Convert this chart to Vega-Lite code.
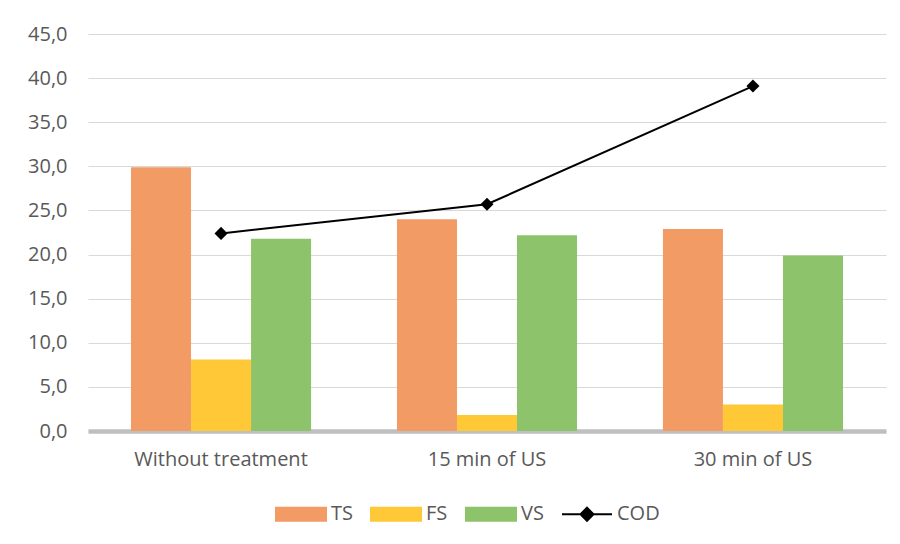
{
  "$schema": "https://vega.github.io/schema/vega-lite/v6.json",
  "width": 798,
  "height": 397,
  "autosize": {"type": "none"},
  "padding": {"left": 88, "top": 34, "right": 14, "bottom": 113},
  "background": "#ffffff",
  "datasets": {
    "solids": [
      {"category": "Without treatment", "series": "TS", "value": 29.9},
      {"category": "Without treatment", "series": "FS", "value": 8.1},
      {"category": "Without treatment", "series": "VS", "value": 21.8},
      {"category": "15 min of US", "series": "TS", "value": 24.0},
      {"category": "15 min of US", "series": "FS", "value": 1.8},
      {"category": "15 min of US", "series": "VS", "value": 22.2},
      {"category": "30 min of US", "series": "TS", "value": 22.9},
      {"category": "30 min of US", "series": "FS", "value": 3.0},
      {"category": "30 min of US", "series": "VS", "value": 19.9}
    ],
    "cod": [
      {"category": "Without treatment", "COD": 22.4},
      {"category": "15 min of US", "COD": 25.7},
      {"category": "30 min of US", "COD": 39.1}
    ]
  },
  "config": {
    "view": {"stroke": null},
    "font": "Open Sans",
    "axis": {
      "labelFont": "Open Sans",
      "labelFontSize": 20,
      "labelColor": "#595959",
      "ticks": false,
      "tickSize": 0,
      "title": null
    },
    "legend": {
      "labelFont": "Open Sans",
      "labelFontSize": 20,
      "labelColor": "#595959"
    }
  },
  "layer": [
    {
      "data": {"name": "solids"},
      "mark": {"type": "bar"},
      "encoding": {
        "x": {
          "field": "category",
          "type": "nominal",
          "sort": ["Without treatment", "15 min of US", "30 min of US"],
          "scale": {"paddingInner": 0.323, "paddingOuter": 0.1617},
          "axis": {
            "labelAngle": 0,
            "labelPadding": 18,
            "domain": true,
            "domainColor": "#bfbfbf",
            "domainWidth": 4.5,
            "grid": false
          }
        },
        "xOffset": {
          "field": "series",
          "type": "nominal",
          "sort": ["TS", "FS", "VS"],
          "scale": {"paddingInner": 0, "paddingOuter": 0}
        },
        "y": {
          "field": "value",
          "type": "quantitative",
          "scale": {"domain": [0, 45], "nice": false},
          "axis": {
            "values": [0, 5, 10, 15, 20, 25, 30, 35, 40, 45],
            "labelExpr": "replace(format(datum.value, '.1f'), '.', ',')",
            "labelPadding": 21,
            "domain": false,
            "grid": true,
            "gridColor": "#d9d9d9",
            "gridWidth": 1.2
          }
        },
        "color": {
          "field": "series",
          "type": "nominal",
          "scale": {
            "domain": ["TS", "FS", "VS", "COD"],
            "range": ["#f39b64", "#ffc836", "#8dc36a", "#000000"]
          },
          "legend": {
            "title": null,
            "orient": "none",
            "direction": "horizontal",
            "legendX": 187,
            "legendY": 454,
            "symbolSize": 2500,
            "labelOffset": 4,
            "columnPadding": 14,
            "encode": {
              "symbols": {
                "update": {
                  "shape": {"signal": "datum.value === 'COD' ? 'M-1,0H1M0,-0.26L0.26,0L0,0.26L-0.26,0Z' : 'M-1,-0.26H1V0.26H-1Z'"},
                  "stroke": {"signal": "datum.value === 'COD' ? '#000000' : 'transparent'"},
                  "strokeWidth": {"value": 2},
                  "opacity": {"value": 1}
                }
              }
            }
          }
        }
      }
    },
    {
      "data": {"name": "cod"},
      "mark": {
        "type": "line",
        "color": "#000000",
        "strokeWidth": 2,
        "point": {"shape": "diamond", "size": 170, "filled": true, "color": "#000000", "opacity": 1}
      },
      "encoding": {
        "x": {
          "field": "category",
          "type": "nominal",
          "sort": ["Without treatment", "15 min of US", "30 min of US"]
        },
        "y": {"field": "COD", "type": "quantitative"},
        "color": {"datum": "COD"}
      }
    }
  ]
}
